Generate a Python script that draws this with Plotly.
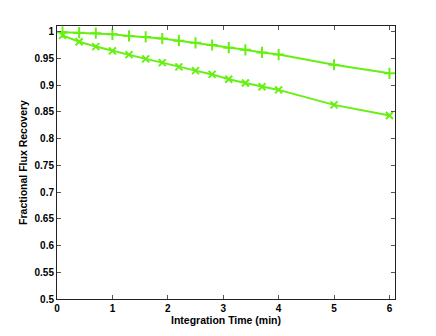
import plotly.graph_objects as go

# integration times (min)
t_min = [0.1, 0.4, 0.7, 1.0, 1.3, 1.6, 1.9, 2.2, 2.5, 2.8, 3.1, 3.4, 3.7, 4.0, 5.0, 6.0]
# "+" series
rec_plus = [0.999, 0.998, 0.997, 0.995, 0.992, 0.990, 0.987, 0.983, 0.979, 0.975,
            0.970, 0.966, 0.961, 0.957, 0.938, 0.922]
# "x" series
rec_cross = [0.993, 0.981, 0.972, 0.964, 0.957, 0.949, 0.942, 0.934, 0.927, 0.920,
             0.911, 0.904, 0.897, 0.891, 0.863, 0.843]

x_ticks = [0, 1, 2, 3, 4, 5, 6]
y_ticks = [0.5, 0.55, 0.6, 0.65, 0.7, 0.75, 0.8, 0.85, 0.9, 0.95, 1]
y_tick_text = ["0.5", "0.55", "0.6", "0.65", "0.7", "0.75", "0.8", "0.85", "0.9", "0.95", "1"]

GREEN = "#66f012"
FONT = "Liberation Sans, Arial, sans-serif"

fig = go.Figure()
fig.add_trace(go.Scatter(
    x=t_min, y=rec_plus, mode="lines+markers",
    line=dict(color=GREEN, width=2),
    marker=dict(symbol="cross-thin", size=8, line=dict(color=GREEN, width=2)),
    showlegend=False,
))
fig.add_trace(go.Scatter(
    x=t_min, y=rec_cross, mode="lines+markers",
    line=dict(color=GREEN, width=2),
    marker=dict(symbol="x-thin", size=7, line=dict(color=GREEN, width=2)),
    showlegend=False,
))

axis_common = dict(
    showline=True, linecolor="#222", linewidth=1, mirror="ticks",
    ticks="inside", ticklen=4, tickcolor="#555",
    showgrid=False, zeroline=False,
    tickfont=dict(family=FONT, size=10, color="black"),
)

# page body adds an 8px offset, so the figure is 8px smaller and margins shifted
fig.update_layout(
    width=428, height=328,
    margin=dict(l=49, r=41, t=18, b=37),
    paper_bgcolor="white", plot_bgcolor="white",
    font=dict(family=FONT, color="black"),
    xaxis=dict(range=[0, 6.1], tickvals=x_ticks, ticktext=[f"<b>{v}</b>" for v in x_ticks],
               title=dict(text="<b>Integration Time (min)</b>", font=dict(size=10.5), standoff=1),
               **axis_common),
    yaxis=dict(range=[0.5, 1.0105], tickvals=y_ticks, ticktext=[f"<b>{s}</b>" for s in y_tick_text],
               title=dict(text="<b>Fractional Flux Recovery</b>", font=dict(size=10.5), standoff=4),
               **axis_common),
)

fig.write_html("out.html")
